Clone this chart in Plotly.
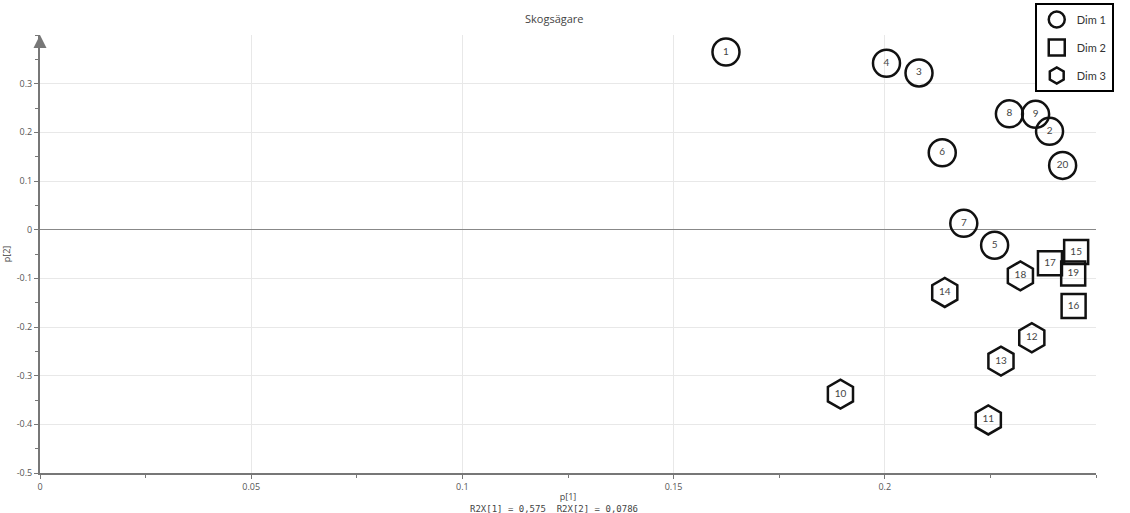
import plotly.graph_objects as go

# Data (p[1], p[2] loadings)
dim1_labels = ["1", "2", "3", "4", "5", "6", "7", "8", "9", "20"]
dim1_x = [0.1624, 0.2390, 0.2081, 0.2004, 0.2260, 0.2136, 0.2187, 0.2295, 0.2357, 0.2421]
dim1_y = [0.365, 0.202, 0.322, 0.342, -0.032, 0.158, 0.013, 0.238, 0.237, 0.132]

dim2_labels = ["15", "16", "17", "19"]
dim2_x = [0.2453, 0.2447, 0.2391, 0.2446]
dim2_y = [-0.046, -0.157, -0.069, -0.090]

dim3_labels = ["10", "11", "12", "13", "14", "18"]
dim3_x = [0.1895, 0.2245, 0.2348, 0.2275, 0.2142, 0.2321]
dim3_y = [-0.338, -0.391, -0.222, -0.270, -0.129, -0.095]

x_ticks = [0, 0.05, 0.1, 0.15, 0.2]
x_tick_text = ["0", "0.05", "0.1", "0.15", "0.2"]
y_ticks = [-0.5, -0.4, -0.3, -0.2, -0.1, 0, 0.1, 0.2, 0.3]
y_tick_text = ["-0.5", "-0.4", "-0.3", "-0.2", "-0.1", "0", "0.1", "0.2", "0.3"]

label_font = dict(family="Lato, Carlito, sans-serif", size=10, color="#444")
line_col = "#111"

fig = go.Figure()
fig.add_trace(go.Scatter(
    x=dim1_x, y=dim1_y, text=dim1_labels, mode="markers+text", name="Dim 1", legendgroup="d1",
    textposition="middle center", textfont=label_font, cliponaxis=False,
    marker=dict(symbol="circle-open", size=27, color=line_col, line=dict(width=2.5, color=line_col)),
))
fig.add_trace(go.Scatter(
    x=dim2_x, y=dim2_y, text=dim2_labels, mode="markers+text", name="Dim 2", legendgroup="d2",
    textposition="middle center", textfont=label_font, cliponaxis=False,
    marker=dict(symbol="square-open", size=24, color=line_col, line=dict(width=2.5, color=line_col)),
))
fig.add_trace(go.Scatter(
    x=dim3_x, y=dim3_y, text=dim3_labels, mode="markers+text", name="Dim 3", legendgroup="d3",
    textposition="middle center", textfont=label_font, cliponaxis=False,
    marker=dict(symbol="hexagon-open", size=29, color=line_col, line=dict(width=2.5, color=line_col)),
))

tick_font = dict(family="Open Sans, sans-serif", size=9, color="#555")

fig.update_layout(
    width=1130, height=513,
    margin=dict(l=40, r=34, t=35, b=40, autoexpand=False),
    paper_bgcolor="white", plot_bgcolor="white",
    title=dict(text="Skogsägare", x=0.487, xref="paper", xanchor="center",
               y=1 - 19 / 513, yref="container", yanchor="middle",
               font=dict(family="Open Sans, sans-serif", size=11, color="#444")),
    showlegend=True,
    legend=dict(x=0.942, y=1.073, xanchor="left", yanchor="top", xref="paper", yref="paper",
                bgcolor="white", bordercolor="black", borderwidth=2,
                font=dict(family="Lato, Carlito, sans-serif", size=11, color="#333"),
                itemsizing="trace", traceorder="grouped", tracegroupgap=9,
                entrywidth=82, entrywidthmode="pixels"),
    xaxis=dict(range=[0, 0.25], tickvals=x_ticks, ticktext=x_tick_text, automargin=False,
               showgrid=True, gridcolor="#e8e8e8", gridwidth=1,
               zeroline=False, showline=True, linecolor="#777", linewidth=2,
               ticks="outside", ticklen=4, tickcolor="#777", tickfont=tick_font,
               minor=dict(dtick=0.025, ticks="outside", ticklen=3, tickcolor="#777", showgrid=False),
               title=dict(text="p[1]", font=dict(family="Open Sans, sans-serif", size=9, color="#444"),
                          standoff=2)),
    yaxis=dict(range=[-0.5, 0.4], tickvals=y_ticks, ticktext=y_tick_text, automargin=False,
               showgrid=True, gridcolor="#e8e8e8", gridwidth=1,
               zeroline=True, zerolinecolor="#888", zerolinewidth=1,
               showline=True, linecolor="#777", linewidth=2,
               ticks="outside", ticklen=4, tickcolor="#777", tickfont=tick_font,
               minor=dict(dtick=0.05, ticks="outside", ticklen=3, tickcolor="#777", showgrid=False),
               title=dict(text="p[2]", font=dict(family="Open Sans, sans-serif", size=9, color="#444"),
                          standoff=6)),
)

# axis arrows
fig.add_annotation(x=0.2506, y=-0.5, xref="x", yref="y", ax=-12, ay=0, axref="pixel", ayref="pixel",
                   text="", showarrow=True, arrowhead=2, arrowsize=1.3, arrowwidth=2, arrowcolor="#777")
fig.add_annotation(x=0, y=0.4, xref="x", yref="y", ax=0, ay=12, axref="pixel", ayref="pixel",
                   text="", showarrow=True, arrowhead=2, arrowsize=1.3, arrowwidth=2, arrowcolor="#777")

# explained variance line
fig.add_annotation(text="R2X[1] = 0,575  R2X[2] = 0,0786", xref="paper", yref="paper",
                   x=(554 - 40) / 1056, y=-(509 - 473) / 438, xanchor="center", yanchor="middle",
                   showarrow=False, font=dict(family="DejaVu Sans Mono, monospace", size=9, color="#444"))

fig.write_html("out.html")
